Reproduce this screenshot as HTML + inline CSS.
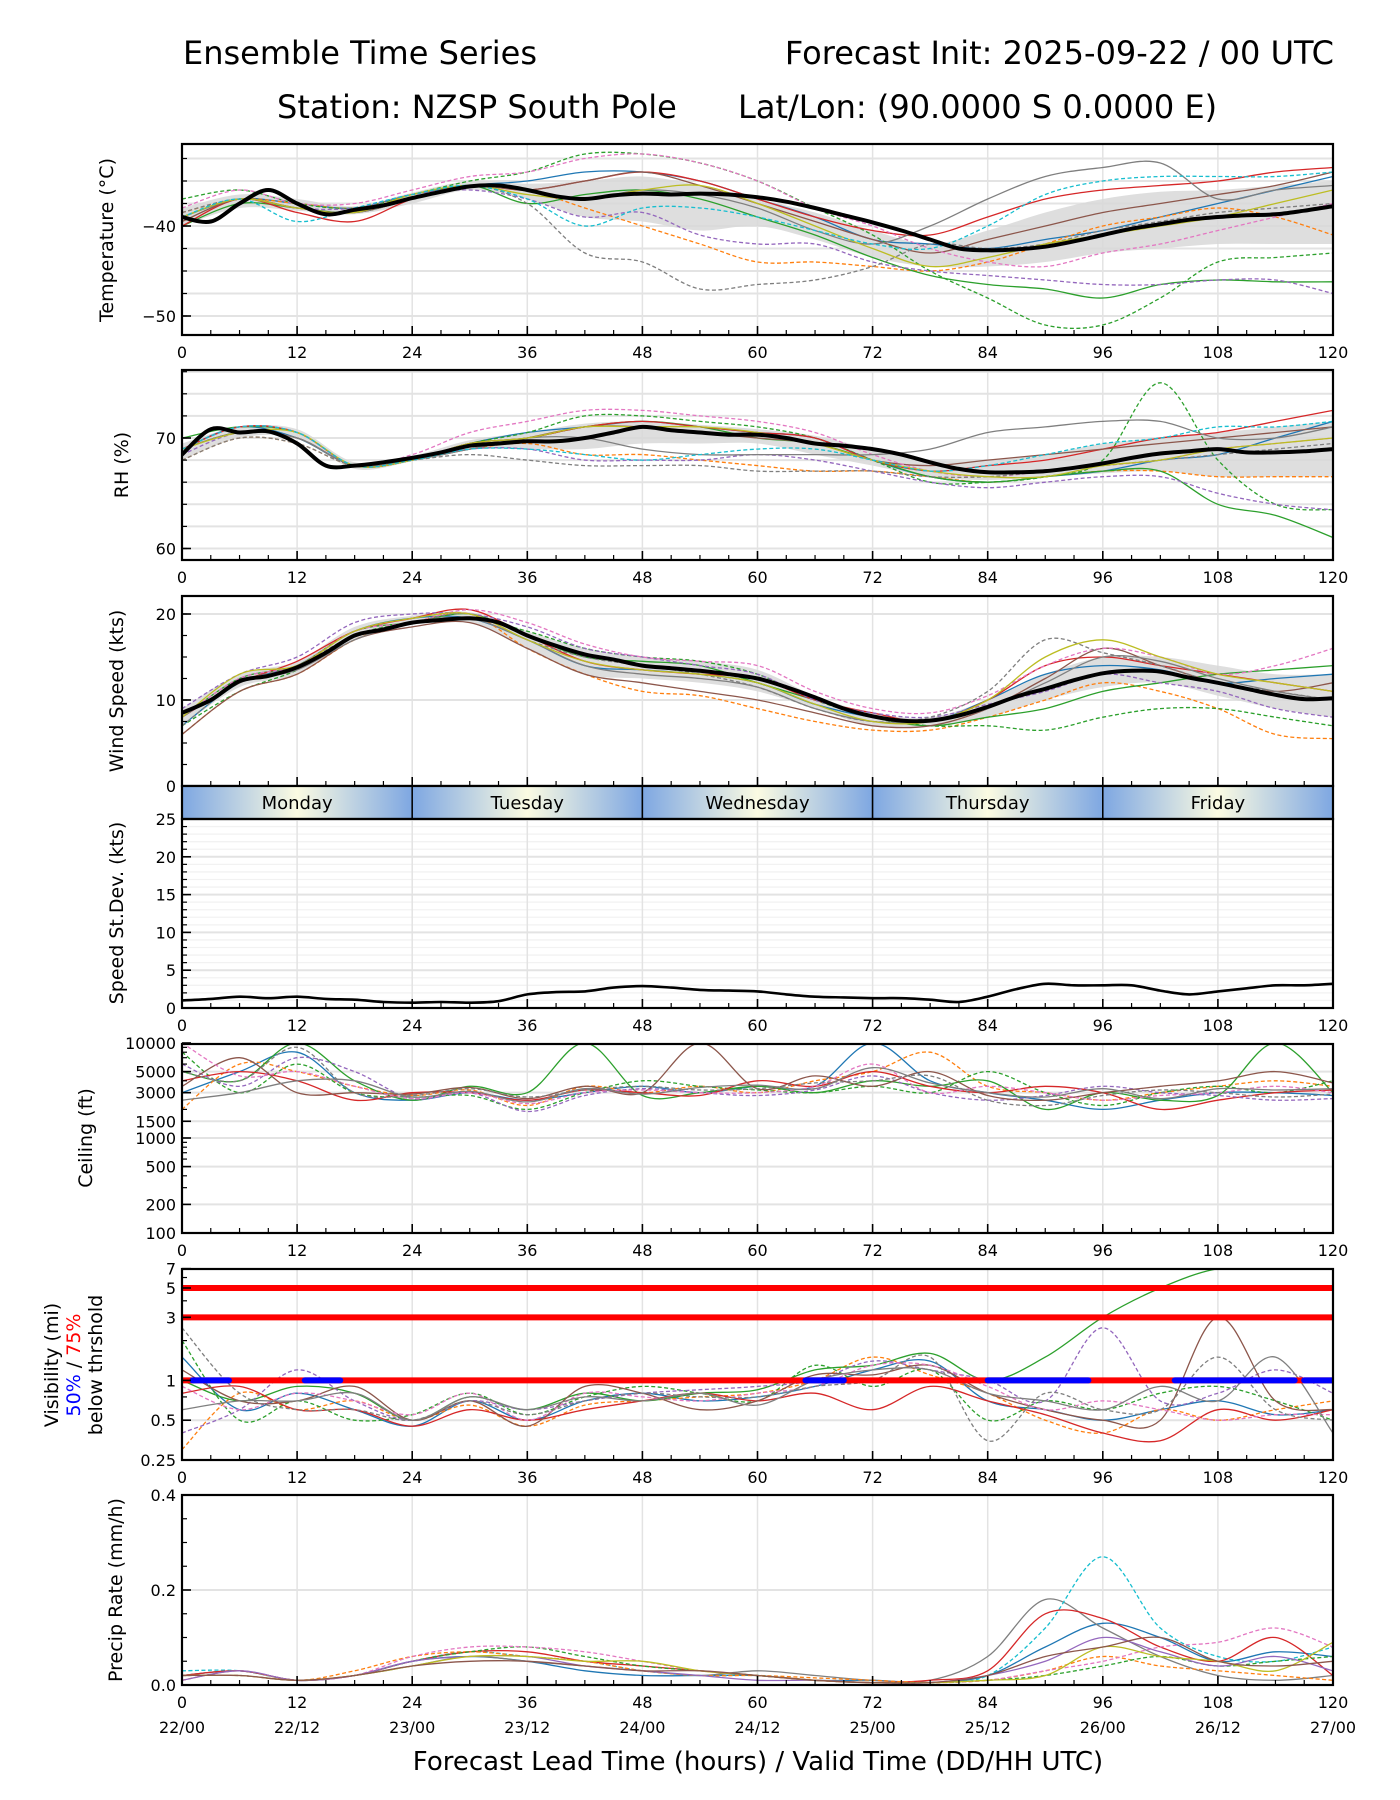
<!DOCTYPE html>
<html><head><meta charset="utf-8"><style>
html,body{margin:0;padding:0;background:#fff;}
svg{display:block;font-family:"DejaVu Sans","Liberation Sans",sans-serif;}
</style></head><body>
<svg id="chart" width="1400" height="1800" viewBox="0 0 1400 1800">
<defs>
<linearGradient id="dayGrad" x1="0" x2="1" y1="0" y2="0">
<stop offset="0" stop-color="#7ea7e2"/><stop offset="0.5" stop-color="#fbfbe2"/><stop offset="1" stop-color="#7ea7e2"/>
</linearGradient>
</defs>
<text x="183" y="64" font-size="32">Ensemble Time Series</text>
<text x="1334" y="64" font-size="32" text-anchor="end">Forecast Init: 2025-09-22 / 00 UTC</text>
<text x="277" y="118" font-size="32">Station: NZSP South Pole</text>
<text x="738" y="118" font-size="32">Lat/Lon: (90.0000 S 0.0000 E)</text>
</svg>
<script>
// ---------- DATA ----------
const hours6 = [0,6,12,18,24,30,36,42,48,54,60,66,72,78,84,90,96,102,108,114,120];
const hours3 = [0,3,6,9,12,15,18,21,24,27,30,33,36,39,42,45,48,51,54,57,60,63,66,69,72,75,78,81,84,87,90,93,96,99,102,105,108,111,114,117,120];
const xTicks = [0,12,24,36,48,60,72,84,96,108,120];
const dateLabels = ["22/00","22/12","23/00","23/12","24/00","24/12","25/00","25/12","26/00","26/12","27/00"];
const dayNames = ["Monday","Tuesday","Wednesday","Thursday","Friday"];

const tempMedian = [-39,-39.5,-37.5,-36,-37.5,-38.7,-38.2,-37.7,-36.9,-36.2,-35.6,-35.5,-36,-36.7,-37,-36.6,-36.4,-36.5,-36.4,-36.5,-36.8,-37.3,-38,-38.8,-39.6,-40.5,-41.5,-42.5,-42.7,-42.6,-42.3,-41.7,-41,-40.3,-39.8,-39.3,-39,-38.8,-38.7,-38.3,-37.8];
const tempHi = [-38,-36.5,-37,-37.8,-36.3,-35,-35.3,-35,-34.5,-35.5,-37,-38.5,-40.5,-42,-40.5,-38.5,-37,-36.2,-36,-35.5,-35];
const tempLo = [-40,-38,-38.3,-38.7,-37.5,-36,-37,-39,-39.5,-40.5,-40,-41.5,-43.5,-44.5,-44.5,-44,-43,-42.5,-42,-42,-42];
const tempM1 = [-39,-37,-37.5,-38,-36.5,-35.5,-35,-34,-34,-35,-37,-39,-41.5,-42,-42.5,-41.5,-40.5,-39,-37.5,-36,-34.5];
const tempM2 = [-38.5,-37,-37.5,-38,-36.5,-35.5,-36,-38,-40,-42,-44,-44,-44.5,-45,-44,-42,-40,-39,-38,-39,-41];
const tempM3 = [-40,-37.5,-38,-38.5,-37,-35.5,-37.5,-36.5,-36,-37,-39,-41,-43.5,-45.5,-46.5,-47,-48,-46.5,-46,-46.2,-46.2];
const tempM4 = [-37,-36,-37.5,-38,-36.5,-35,-34,-32,-32,-33,-35,-38,-41,-45,-48,-51,-51,-48,-44,-43.5,-43];
const tempM5 = [-40,-37,-38.5,-39.5,-37,-35.5,-36,-35,-34,-35,-37,-39,-40.5,-41,-39,-37,-36,-35.5,-35,-34,-33.5];
const tempM6 = [-39,-37,-38,-38,-36.5,-36,-37,-39,-38.5,-41,-42,-42,-44,-45,-45.5,-46,-46.5,-46.5,-46,-46,-47.5];
const tempM7 = [-39.5,-37,-38,-38.5,-37,-35.5,-36,-35,-34,-35.5,-37.5,-39.5,-41.5,-43,-41.5,-40,-38.5,-37.5,-36.5,-35.5,-34];
const tempM8 = [-38,-36,-37.5,-37.5,-36,-34.5,-34,-32.5,-32,-33,-35,-38,-40,-42.5,-44,-44.5,-43,-42,-40.5,-39,-37.5];
const tempM9 = [-38.5,-37,-38,-38.5,-37,-35.5,-37.5,-43,-44,-47,-46.5,-46,-44.5,-42,-42.5,-42,-40.5,-39.5,-38.5,-38,-37.5];
const tempM10 = [-39,-37,-38,-38.5,-36.5,-35.5,-36,-37,-36,-36.5,-38,-40.5,-42,-40,-37,-34.5,-33.5,-33,-37,-36,-35.5];
const tempM11 = [-39,-37,-38,-38.5,-36.5,-35.5,-36.5,-37,-36,-35.5,-37.5,-40,-42.5,-44.5,-43.5,-42,-41,-40,-39,-37.5,-36];
const tempM12 = [-39,-37,-39.5,-38,-36.5,-35.5,-37,-40,-38,-38,-39,-40.5,-42,-42.5,-40,-36.5,-35,-34.5,-34.5,-34.5,-34];

const rhMedian = [68.5,70.8,70.5,70.6,69.5,67.5,67.5,67.8,68.2,68.7,69.3,69.5,69.7,69.7,70,70.5,71,70.7,70.5,70.3,70.3,70,69.5,69.3,69,68.5,67.8,67.2,66.9,66.9,67,67.3,67.7,68.2,68.6,68.8,69,68.7,68.7,68.8,69];
const rhHi = [69.5,71,70.8,67.8,68.4,69.8,70.5,71.3,71.5,71.2,70.8,70.2,69,68,68,68.5,69.5,70,70.5,71,71.5];
const rhLo = [68,70,70,67.2,67.9,69,69,69,69.5,69.5,69.5,68.5,67.5,66.5,66.2,66.5,66.8,67,66.5,66.5,66.5];
const rhM1 = [69,71,70,67.5,68,69.5,70.5,71,71.5,71,70.5,70,68,66.5,66,66.5,67,68,68.5,70,71.5];
const rhM2 = [68,70,69.5,67.5,68,69,69.5,68.5,68.5,68,67.5,67,67,66.5,66,66.5,67,67,66.5,66.5,66.5];
const rhM3 = [70,71,70.5,67.5,68,69.5,70,71,71.5,71,70,69.5,68,66.5,66,66.5,67,67,64,63,61];
const rhM4 = [69,70.5,70,67.5,68,69.5,70.5,72,72,71.5,71,70,68,66,66,66.5,68,75,68,64,63.5];
const rhM5 = [69,71,70.5,67.5,68,69.5,70,71,71.5,71,70.5,70,68,67,67.5,68,69,70,70.5,71.5,72.5];
const rhM6 = [68.5,70.5,70,67.5,68,69,69,68,68,68,68.5,68,67,66,65.5,66,66.5,66.5,65,64,63.5];
const rhM7 = [69,70.5,70,67.5,68,69,70,71,71,70.5,70,69.5,68,67.5,68,68.5,69,69.5,70,70.5,71];
const rhM8 = [69,71,70.5,67.5,68.5,70.5,71.5,72.5,72.5,72,71.5,70.5,68.5,67,66.5,67,67.5,68,69,69.5,70];
const rhM9 = [68,70,69.5,67.5,68,68.5,68,67.5,67.5,67.5,67,67,67,66.5,66.5,67,67.5,68,68.5,69,69.5];
const rhM10 = [69,70.5,70,67.5,68,69,70,70,69,68.5,68.5,68.5,68.5,69,70.5,71,71.5,71.5,70,70,71];
const rhM11 = [69,70.5,70.5,67.5,68,69.5,70,71,71,71,70.5,69.5,68,67,66.5,66.5,67.5,68,69,69.5,70];
const rhM12 = [69,71,70.5,67.5,68,69,69,68.5,68,68.5,69,69,68,67,67.5,68.5,69.5,70,71,71,71.5];

const windMedian = [8.5,10,12.2,12.8,13.8,15.5,17.5,18.2,19,19.3,19.5,19,17.5,16.3,15.3,14.7,14,13.7,13.4,13,12.5,11.5,10.3,9,8.1,7.6,7.6,8.2,9.2,10.4,11.3,12.3,13.1,13.4,13.3,12.6,12,11.3,10.6,10.1,10.2];
const windHi = [9,13,14.5,18.5,19.8,20.2,18,16,15,14.5,13.5,10.5,8.5,8,10,13,15,15,14,13,13];
const windLo = [7,11.5,13,17,19,19,16,13,12.5,12,11,9,7,7,8,10,11.5,12,10.5,9,8];
const windM1 = [7,12,14,18,19.5,19.5,17,14,13.5,13,12,9.5,8,7.5,10,13,14,13.5,12,12.5,13];
const windM2 = [6,11,13,17,19,20,16,13,11,10.5,9,7.5,6.5,6.5,8,10,12,11,9,6,5.5];
const windM3 = [8,12.5,14,18,19,20,17.5,15,14.5,14,12,10,8,7,8,9,11,12,13,13.5,14];
const windM4 = [7,11,13.5,17.5,19,19.5,18,16,15,14.5,13,10,8,7,7,6.5,8,9,9,8,7];
const windM5 = [8,12,14.5,18,19.5,20.5,17.5,14.5,13.5,13,12.5,10,8.5,7.5,10,14,15,14,13,12,11];
const windM6 = [9,13,15,19,20,20,18.5,16,15,14,13,10,8.5,8,9.5,11,13,12,11,9,8];
const windM7 = [6,11,13,17,18.5,19,16,13,12,11,10,8.5,7,7,9,12.5,16,14,12,11,12];
const windM8 = [8,12.5,14,18,19,20.5,19,16.5,15,14.5,14,11,9,8.5,10.5,14,16,15,13,14,16];
const windM9 = [7,12,14,17.5,19,20,17,15,14,13,11.5,9,7.5,8,11,17,15.5,14,12,11,10];
const windM10 = [8,12,13.5,17,19,19.5,17,14,13,12.5,11.5,9,7.5,7.5,9,12,15,14.5,12.5,11,10];
const windM11 = [8,13,14,18,19.5,20,17,14.5,13.5,13,12,9.5,7.5,7.5,10,15,17,15,13,12,11];

const speedStd = [1,1.2,1.5,1.3,1.5,1.2,1.1,0.8,0.7,0.8,0.7,0.9,1.8,2.1,2.2,2.7,2.9,2.7,2.4,2.3,2.2,1.8,1.5,1.4,1.3,1.3,1.1,0.8,1.5,2.5,3.2,3,3,3,2.3,1.8,2.2,2.6,3,3,3.2];

const ceilM1 = [3000,5000,8000,3000,2500,3000,2500,3000,3500,3000,3500,3500,10000,4000,3000,2500,2000,2500,3000,3000,2800];
const ceilM2 = [2000,6000,5000,3500,2800,3200,2200,3500,3000,3500,3000,4000,5000,8000,3500,3000,2500,3000,3500,4000,3500];
const ceilM3 = [5000,4000,10000,4000,2500,3500,3000,10000,2800,3000,3500,3000,4000,3500,4000,2000,3000,2500,2800,10000,3000];
const ceilM4 = [8000,3000,6000,3000,2700,2800,2000,3000,4000,3500,3200,3000,3500,3000,5000,3000,2200,3000,3500,3000,4000];
const ceilM5 = [4000,5000,4000,2500,3000,3000,2500,3200,3000,2800,4000,3500,5000,3500,3000,3500,3000,2000,2500,3000,3200];
const ceilM6 = [6000,3500,7000,5000,2600,3000,1900,2800,3300,3000,2800,3200,4500,3000,2500,2800,3500,3000,2800,2500,2600];
const ceilM7 = [3500,7000,3000,3000,2900,3400,2600,3500,3000,10000,3300,4500,3500,5000,2800,2500,3000,3500,4000,5000,3800];
const ceilM8 = [10000,4500,5000,3500,2600,3000,2300,3000,3200,3000,3000,3500,6000,3000,3500,3000,2500,2800,3000,3500,3000];
const ceilM9 = [5000,4000,9000,3000,2800,3300,2700,3200,3500,3200,3300,3800,4000,4500,2500,2200,2800,3200,3000,2700,2900];
const ceilM10 = [2500,3000,4000,4000,2700,3100,2400,3300,2900,3400,3600,3300,5500,3800,3000,2700,3300,2600,3300,3200,3300];

const visM1 = [1.5,0.6,0.8,0.6,0.45,0.7,0.5,0.7,0.8,0.7,0.75,0.9,1.2,1.4,0.7,0.6,0.5,0.6,0.7,0.55,0.6];
const visM2 = [0.3,0.8,0.6,0.7,0.5,0.65,0.45,0.65,0.7,0.75,0.8,1.0,1.5,1.1,0.8,0.5,0.4,0.6,0.5,0.6,0.7];
const visM3 = [1,0.7,0.9,0.8,0.5,0.75,0.6,0.8,0.7,0.8,0.85,1.2,1.3,1.6,1.0,1.5,3,5,7,7,7];
const visM4 = [2,0.5,0.7,0.5,0.55,0.8,0.55,0.75,0.9,0.8,0.7,1.3,0.9,1.2,0.5,0.7,0.6,0.8,0.9,0.7,0.5];
const visM5 = [0.8,0.9,0.6,0.6,0.45,0.6,0.5,0.6,0.7,0.8,0.7,0.8,0.6,0.9,0.7,0.55,0.4,0.35,0.6,0.5,0.6];
const visM6 = [0.4,0.6,1.2,0.7,0.5,0.7,0.6,0.7,0.8,0.85,0.9,1.0,1.4,1.2,1.0,0.7,2.5,0.7,0.8,1.2,0.8];
const visM7 = [1.2,0.7,0.7,0.9,0.5,0.7,0.45,0.9,0.8,0.6,0.7,1.1,1.1,1.3,0.8,0.6,0.5,0.5,3,0.7,0.6];
const visM8 = [0.9,0.6,0.8,0.7,0.55,0.8,0.5,0.8,0.75,0.7,0.8,0.9,1.3,1.3,0.9,0.6,0.7,0.6,0.5,0.55,0.55];
const visM9 = [2.5,0.8,0.6,0.6,0.5,0.7,0.55,0.7,0.8,0.75,0.75,0.9,1.0,1.5,0.35,0.8,0.6,0.6,1.5,0.6,0.5];
const visM10 = [0.6,0.7,0.7,0.8,0.5,0.75,0.6,0.75,0.7,0.8,0.65,1.0,1.2,1.2,0.8,0.7,0.6,0.9,0.7,1.5,0.4];
const visThresholds = [5,3,1];
const visBlueStart = [1.1,12.8,65,84,103.5,117];
const visBlueEnd = [4.9,16.5,69,94.5,116,120];

const precipM1 = [0.02,0.03,0.01,0.02,0.05,0.06,0.05,0.03,0.02,0.02,0.02,0.01,0.01,0.005,0.02,0.08,0.13,0.1,0.05,0.07,0.06];
const precipM2 = [0.02,0.03,0.01,0.02,0.04,0.06,0.05,0.04,0.03,0.02,0.03,0.02,0.01,0.01,0.06,0.18,0.12,0.06,0.02,0.01,0.02];
const precipM3 = [0.03,0.03,0.01,0.02,0.05,0.07,0.06,0.05,0.03,0.02,0.02,0.01,0.005,0.005,0.02,0.12,0.27,0.12,0.06,0.05,0.08];
const precipM4 = [0.02,0.03,0.01,0.02,0.05,0.07,0.07,0.05,0.04,0.03,0.02,0.01,0.005,0.01,0.03,0.15,0.14,0.08,0.05,0.1,0.02];
const precipM5 = [0.01,0.03,0.01,0.03,0.06,0.07,0.06,0.05,0.03,0.02,0.02,0.015,0.01,0.005,0.01,0.03,0.06,0.04,0.03,0.02,0.01];
const precipM6 = [0.02,0.02,0.01,0.02,0.05,0.07,0.08,0.06,0.04,0.03,0.02,0.01,0.005,0.005,0.01,0.02,0.04,0.06,0.04,0.05,0.06];
const precipM7 = [0.02,0.02,0.01,0.02,0.06,0.08,0.08,0.07,0.05,0.03,0.02,0.01,0.005,0.005,0.01,0.03,0.05,0.08,0.09,0.12,0.08];
const precipM8 = [0.01,0.03,0.01,0.02,0.05,0.06,0.06,0.04,0.03,0.02,0.01,0.01,0.005,0.005,0.02,0.05,0.1,0.07,0.04,0.06,0.03];
const precipM9 = [0.02,0.02,0.01,0.02,0.04,0.06,0.06,0.05,0.05,0.03,0.02,0.01,0.005,0.005,0.01,0.02,0.08,0.06,0.05,0.03,0.09];
const precipM10 = [0.02,0.02,0.01,0.02,0.04,0.05,0.05,0.04,0.03,0.03,0.02,0.01,0.005,0.005,0.02,0.06,0.08,0.1,0.05,0.04,0.05];

// ---------- RENDER ----------
const NS = "http://www.w3.org/2000/svg";
const svg = document.getElementById("chart");
const X0 = 182, X1 = 1333;
function xs(h){ return X0 + h*(X1-X0)/120; }
function mk(tag, attrs, parent){
  const e = document.createElementNS(NS, tag);
  for (const k in attrs) e.setAttribute(k, attrs[k]);
  (parent||svg).appendChild(e);
  return e;
}
const COLORS = ["#1f77b4","#ff7f0e","#2ca02c","#d62728","#9467bd","#8c564b","#e377c2","#7f7f7f","#bcbd22","#17becf"];
function smoothPath(pts){
  if (pts.length < 2) return "";
  let d = "M" + pts[0][0].toFixed(1) + "," + pts[0][1].toFixed(1);
  for (let i=0;i<pts.length-1;i++){
    const p0 = pts[Math.max(0,i-1)], p1 = pts[i], p2 = pts[i+1], p3 = pts[Math.min(pts.length-1,i+2)];
    const c1x = p1[0]+(p2[0]-p0[0])/6, c1y = p1[1]+(p2[1]-p0[1])/6;
    const c2x = p2[0]-(p3[0]-p1[0])/6, c2y = p2[1]-(p3[1]-p1[1])/6;
    d += "C"+c1x.toFixed(1)+","+c1y.toFixed(1)+" "+c2x.toFixed(1)+","+c2y.toFixed(1)+" "+p2[0].toFixed(1)+","+p2[1].toFixed(1);
  }
  return d;
}
let clipId = 0;
function makePanel(name, top, bottom, ys, grids, majorTicks, labels, minorTicks, tickLabels){
  const g = mk("g", {});
  
  
  clipId++;
  const cp = mk("clipPath", {id:"clip"+clipId}, g);
  mk("rect", {x:X0, y:top, width:X1-X0, height:bottom-top}, cp);
  const inR = v => ys(v) >= top-0.5 && ys(v) <= bottom+0.5;
  const gg = mk("g", {}, g);
  
  
  for (const v of (grids.minor || []).filter(inR)) mk("line",{x1:X0,x2:X1,y1:ys(v),y2:ys(v),stroke:"#f2f2f2","stroke-width":1.3},gg);
  for (const v of grids.major.filter(inR)) mk("line",{x1:X0,x2:X1,y1:ys(v),y2:ys(v),stroke:"#e3e3e3","stroke-width":2},gg);
  for (const h of xTicks) mk("line",{x1:xs(h),x2:xs(h),y1:top,y2:bottom,stroke:"#e3e3e3","stroke-width":1.5},gg);
  const plot = mk("g", {"clip-path":"url(#clip"+clipId+")"}, g);
  
  
  const post = () => {
    const fr = mk("rect",{x:X0,y:top,width:X1-X0,height:bottom-top,fill:"none",stroke:"#000","stroke-width":2.2},g);
    
    
    const tg = mk("g",{},g);
    
    
    for (let h=0; h<=120; h+=3){
      const major = h%12===0;
      mk("line",{x1:xs(h),x2:xs(h),y1:bottom,y2:bottom-(major?9:5),stroke:"#000","stroke-width":major?1.6:1.2},tg);
    }
    if (tickLabels !== false){
      for (const h of xTicks){
        const t = mk("text",{x:xs(h),y:bottom+23,"font-size":16,"text-anchor":"middle"},tg);
        t.textContent = h;
      }
    }
    const yg = mk("g",{},g);
    
    
    for (const v of minorTicks.filter(inR)) mk("line",{x1:X0,x2:X0+5,y1:ys(v),y2:ys(v),stroke:"#000","stroke-width":1.2},yg);
    majorTicks.forEach((v,i)=>{
      mk("line",{x1:X0,x2:X0+9,y1:ys(v),y2:ys(v),stroke:"#000","stroke-width":1.6},yg);
      const t = mk("text",{x:X0-6,y:ys(v)+6,"font-size":16,"text-anchor":"end"},yg);
      t.textContent = labels[i];
    });
  };
  return {g, plot, post};
}
function drawSeries(plot, hrs, vals, ys, color, dash, width, name){
  const pts = hrs.map((h,i)=>[xs(h), ys(vals[i])]);
  const p = mk("path",{d:smoothPath(pts),fill:"none",stroke:color,"stroke-width":width,"stroke-dasharray":dash?"4,2.5":"none","stroke-linejoin":"round"},plot);
  
  
  return p;
}
function drawBand(plot, hrs, lo, hi, ys, name){
  const up = hrs.map((h,i)=>[xs(h), ys(hi[i])]);
  const dn = hrs.map((h,i)=>[xs(h), ys(lo[i])]).reverse();
  let d = smoothPath(up) + "L" + dn[0][0] + "," + dn[0][1] + smoothPath(dn).replace(/^M[^C]*/,"") + "Z";
  const p = mk("path",{d:d,fill:"#d8d8d8","fill-opacity":0.85,stroke:"none"},plot);
  
  
}
function ylabel(text, x, cy, name, size){
  const t = mk("text",{x:0,y:0,"font-size":size||19,"text-anchor":"middle",transform:"translate("+x+","+cy+") rotate(-90)"});
  t.textContent = text;
  
  
  return t;
}
const memberStyles = [[0,false],[1,true],[2,false],[2,true],[3,false],[4,true],[5,false],[6,true],[7,true],[7,false],[8,false],[9,true]];

// ---- Temperature ----
{
  const top=144,bottom=335; const ys = v => 226 + (-40 - v)*9.0;
  const minor=[]; for(let v=-52.5; v<=-30; v+=2.5) minor.push(v);
  const P = makePanel("temperature", top, bottom, ys, {major:minor}, [-40,-50], ["\u221240","\u221250"], minor);
  drawBand(P.plot, hours6, tempLo, tempHi, ys, "temperature-iqr-band");
  const mem = [tempM1,tempM2,tempM3,tempM4,tempM5,tempM6,tempM7,tempM8,tempM9,tempM10,tempM11,tempM12];
  mem.forEach((m,i)=>drawSeries(P.plot, hours6, m, ys, COLORS[memberStyles[i][0]], memberStyles[i][1], 1.3, "temperature-member-"+(i+1)));
  drawSeries(P.plot, hours3, tempMedian, ys, "#000", false, 4, "temperature-median-line");
  P.post();
  ylabel("Temperature (\u00b0C)", 113, 240, "temperature-y-axis-title");
}
// ---- RH ----
{
  const top=370,bottom=560; const ys = v => 438 + (70 - v)*11.05;
  const minor=[]; for(let v=60; v<=76; v+=2) minor.push(v);
  const P = makePanel("rh", top, bottom, ys, {major:[60,62,64,66,68,70,72,74,76]}, [60,70], ["60","70"], minor);
  drawBand(P.plot, hours6, rhLo, rhHi, ys, "rh-iqr-band");
  const mem = [rhM1,rhM2,rhM3,rhM4,rhM5,rhM6,rhM7,rhM8,rhM9,rhM10,rhM11,rhM12];
  mem.forEach((m,i)=>drawSeries(P.plot, hours6, m, ys, COLORS[memberStyles[i][0]], memberStyles[i][1], 1.3, "rh-member-"+(i+1)));
  drawSeries(P.plot, hours3, rhMedian, ys, "#000", false, 4, "rh-median-line");
  P.post();
  ylabel("RH (%)", 128, 465, "rh-y-axis-title");
}
// ---- Wind ----
{
  const top=596,bottom=786; const ys = v => 786 - v*8.6;
  const minor=[]; for(let v=0; v<=22; v+=2.5) minor.push(v);
  const P = makePanel("wind", top, bottom, ys, {major:[10,20]}, [0,10,20], ["0","10","20"], minor, false);
  drawBand(P.plot, hours6, windLo, windHi, ys, "wind-iqr-band");
  const mem = [windM1,windM2,windM3,windM4,windM5,windM6,windM7,windM8,windM9,windM10,windM11];
  mem.forEach((m,i)=>drawSeries(P.plot, hours6, m, ys, COLORS[memberStyles[i][0]], memberStyles[i][1], 1.3, "wind-member-"+(i+1)));
  drawSeries(P.plot, hours3, windMedian, ys, "#000", false, 4, "wind-median-line");
  P.post();
  ylabel("Wind Speed (kts)", 123, 691, "wind-y-axis-title");
}
// ---- Day band ----
{
  const g = mk("g",{});
  
  
  dayNames.forEach((d,i)=>{
    const x = xs(i*24), w = xs((i+1)*24)-x;
    const r = mk("rect",{x:x,y:786,width:w,height:33,fill:"url(#dayGrad)",stroke:"#000","stroke-width":1.5},g);
    
    
    const t = mk("text",{x:x+w/2,y:809,"font-size":18,"text-anchor":"middle"},g);
    t.textContent = d;
    
    
  });
  mk("rect",{x:X0,y:786,width:X1-X0,height:33,fill:"none",stroke:"#000","stroke-width":2.2},g);
}
// ---- Speed StDev ----
{
  const top=819,bottom=1008; const ys = v => 1008 - v*7.56;
  const minor=[]; for(let v=0; v<=25; v+=1) minor.push(v);
  const P = makePanel("speed-stdev", top, bottom, ys, {major:[5,10,15,20,25], minor:minor}, [0,5,10,15,20,25], ["0","5","10","15","20","25"], minor);
  drawSeries(P.plot, hours3, speedStd, ys, "#000", false, 2.6, "speed-stdev-line");
  P.post();
  ylabel("Speed St.Dev. (kts)", 123, 913, "speed-stdev-y-axis-title");
}
// ---- Ceiling ----
{
  const top=1044,bottom=1233; const ys = v => 1233 - (Math.log10(v)-2)*95;
  const ticks=[100,200,500,1000,1500,3000,5000,10000];
  const P = makePanel("ceiling", top, bottom, ys, {major:ticks}, ticks, ticks.map(String), [300,400,600,700,800,900,2000,4000,6000,7000,8000,9000]);
  const mem = [ceilM1,ceilM2,ceilM3,ceilM4,ceilM5,ceilM6,ceilM7,ceilM8,ceilM9,ceilM10];
  mem.forEach((m,i)=>drawSeries(P.plot, hours6, m, ys, COLORS[memberStyles[i][0]], memberStyles[i][1], 1.3, "ceiling-member-"+(i+1)));
  P.post();
  ylabel("Ceiling (ft)", 92, 1138, "ceiling-y-axis-title");
}
// ---- Visibility ----
{
  const top=1269,bottom=1460; const ys = v => 1460 - (Math.log2(v)+2)*39.8;
  const P = makePanel("visibility", top, bottom, ys, {major:[0.5,1,3,5]}, [0.25,0.5,1,3,5,7], ["0.25","0.5","1","3","5","7"], [0.75,2,4,6]);
  const mem = [visM1,visM2,visM3,visM4,visM5,visM6,visM7,visM8,visM9,visM10];
  mem.forEach((m,i)=>drawSeries(P.plot, hours6, m, ys, COLORS[memberStyles[i][0]], memberStyles[i][1], 1.3, "visibility-member-"+(i+1)));
  visThresholds.forEach(v=>{
    const l = mk("line",{x1:X0,x2:X1,y1:ys(v),y2:ys(v),stroke:"#ff0000","stroke-width":6},P.plot);
    
    
  });
  visBlueStart.forEach((s,i)=>{
    const l = mk("line",{x1:xs(s),x2:xs(visBlueEnd[i]),y1:ys(1),y2:ys(1),stroke:"#0000ff","stroke-width":6,"stroke-linecap":"round"},P.plot);
    
    
  });
  P.post();
  const t = mk("text",{x:0,y:0,"font-size":19,"text-anchor":"middle",transform:"translate(58,1365) rotate(-90)"});
  t.textContent = "Visibility (mi)";
  
  
  const t2 = mk("text",{x:0,y:0,"font-size":19,"text-anchor":"middle",transform:"translate(80,1365) rotate(-90)"});
  
  
  const a = mk("tspan",{fill:"#0000ff"},t2); a.textContent="50%";
  const b = mk("tspan",{fill:"#000"},t2); b.textContent=" / ";
  const c = mk("tspan",{fill:"#ff0000"},t2); c.textContent="75%";
  const t3 = mk("text",{x:0,y:0,"font-size":19,"text-anchor":"middle",transform:"translate(102,1365) rotate(-90)"});
  t3.textContent = "below thrshold";
  
  
}
// ---- Precip ----
{
  const top=1495,bottom=1685; const ys = v => 1685 - v*475;
  const P = makePanel("precip", top, bottom, ys, {major:[0.2]}, [0,0.2,0.4], ["0.0","0.2","0.4"], [0.05,0.1,0.15,0.25,0.3,0.35]);
  const mem = [precipM1,precipM2,precipM3,precipM4,precipM5,precipM6,precipM7,precipM8,precipM9,precipM10];
  const pst = [[0,false],[7,false],[9,true],[3,false],[1,true],[2,true],[6,true],[4,false],[8,false],[5,false]];
  mem.forEach((m,i)=>drawSeries(P.plot, hours6, m, ys, COLORS[pst[i][0]], pst[i][1], 1.3, "precip-member-"+(i+1)));
  P.post();
  ylabel("Precip Rate (mm/h)", 122, 1590, "precip-y-axis-title");
  const dg = mk("g",{});
  
  
  xTicks.forEach((h,i)=>{
    const t = mk("text",{x:xs(h),y:1733,"font-size":16,"text-anchor":"middle"},dg);
    t.textContent = dateLabels[i];
  });
  const xl = mk("text",{x:758,y:1770,"font-size":26,"text-anchor":"middle"});
  xl.textContent = "Forecast Lead Time (hours) / Valid Time (DD/HH UTC)";
  
  
}
</script>
</body></html>
